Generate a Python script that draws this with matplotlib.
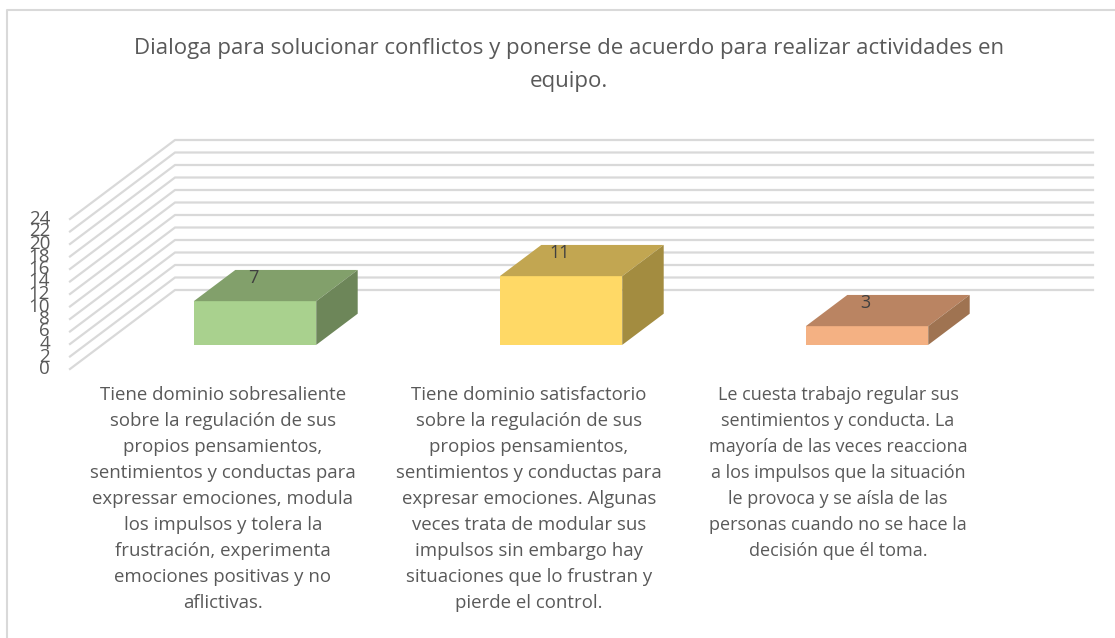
import matplotlib
matplotlib.use('agg')

import matplotlib.pyplot as plt
from matplotlib.patches import Polygon

# chart data
title = "Dialoga para solucionar conflictos y ponerse de acuerdo para realizar actividades en\nequipo."
values = [7, 11, 3]
ticks = list(range(0, 25, 2))
categories = [
    "Tiene dominio sobresaliente\nsobre la regulación de sus\npropios pensamientos,\nsentimientos y conductas para\nexpressar emociones, modula\nlos impulsos y tolera la\nfrustración, experimenta\nemociones positivas y no\naflictivas.",
    "Tiene dominio satisfactorio\nsobre la regulación de sus\npropios pensamientos,\nsentimientos y conductas para\nexpresar emociones. Algunas\nveces trata de modular sus\nimpulsos sin embargo hay\nsituaciones que lo frustran y\npierde el control.",
    "Le cuesta trabajo regular sus\nsentimientos y conducta. La\nmayoría de las veces reacciona\na los impulsos que la situación\nle provoca y se aísla de las\npersonas cuando no se hace la\ndecisión que él toma.",
]
front_colors = ["#A9D18E", "#FFD966", "#F4B183"]
top_colors = ["#82A06B", "#C2A651", "#BA8462"]
side_colors = ["#6D8659", "#A38C40", "#9F7351"]

grey = "#595959"
plt.rcParams['font.family'] = ['Open Sans', 'DejaVu Sans']

W, H = 1115, 638
fig = plt.figure(figsize=(W / 100, H / 100), dpi=100)
ax = fig.add_axes([0, 0, 1, 1])
ax.axis('off')

# x in category bands, y in value units, on the front plane of the box
px_band = 306.0
px_unit = 6.25
x_left = 70
y_zero = 369
ax.set_xlim(-x_left / px_band, (W - x_left) / px_band)
ax.set_ylim(-(H - y_zero) / px_unit, y_zero / px_unit)

# depth: one unit moves a point back into the box
depth_x = 105 / px_band
depth_y = 79 / px_unit


def proj(x, v, d):
    return x + d * depth_x, v + d * depth_y


# outer frame, the right side is cut off in the picture
fig.add_artist(plt.Line2D([7 / W, 7 / W, 1], [0, 1 - 9.5 / H, 1 - 9.5 / H],
                          color="#D9D9D9", lw=1.5))

# gridlines on the floor side and the back wall
for t in ticks:
    pts = [proj(0, t, 0), proj(0, t, 1), proj(3, t, 1)]
    ax.plot([p[0] for p in pts], [p[1] for p in pts], color="#D9D9D9", lw=1.6,
            solid_joinstyle='miter', zorder=1)
    ax.text(-20 / px_band, t, str(t), ha='right', va='center', fontsize=13.5, color=grey)

# boxes
bar_w = 0.4
d0, d1 = 0.305, 0.70
for i, v in enumerate(values):
    xa = i + 0.5 - bar_w / 2
    xb = i + 0.5 + bar_w / 2
    ax.add_patch(Polygon([proj(xa, 0, d0), proj(xb, 0, d0), proj(xb, v, d0), proj(xa, v, d0)],
                         facecolor=front_colors[i], edgecolor='none', zorder=3))
    ax.add_patch(Polygon([proj(xa, v, d0), proj(xb, v, d0), proj(xb, v, d1), proj(xa, v, d1)],
                         facecolor=top_colors[i], edgecolor='none', zorder=3))
    ax.add_patch(Polygon([proj(xb, 0, d0), proj(xb, 0, d1), proj(xb, v, d1), proj(xb, v, d0)],
                         facecolor=side_colors[i], edgecolor='none', zorder=3))
    lx, ly = proj(i + 0.5, v, d0)
    ax.annotate(str(v), (lx, ly), xytext=(-1, 17), textcoords='offset points',
                ha='center', va='center', fontsize=13, color="#404040", zorder=4)

# third label sits a little right of its band
label_shift = [0, 0, 3 / px_band]
label_size = [13.4, 13.4, 13]
for i, c in enumerate(categories):
    ax.text(i + 0.5 + label_shift[i], -(386 - y_zero) / px_unit, c, ha='center', va='top',
            fontsize=label_size[i], color=grey, linespacing=1.57)

ax.text((569 - x_left) / px_band, (y_zero - 65) / px_unit, title, ha='center', va='center',
        fontsize=16, color=grey, linespacing=1.72)

fig.savefig('out.png', dpi=100)
